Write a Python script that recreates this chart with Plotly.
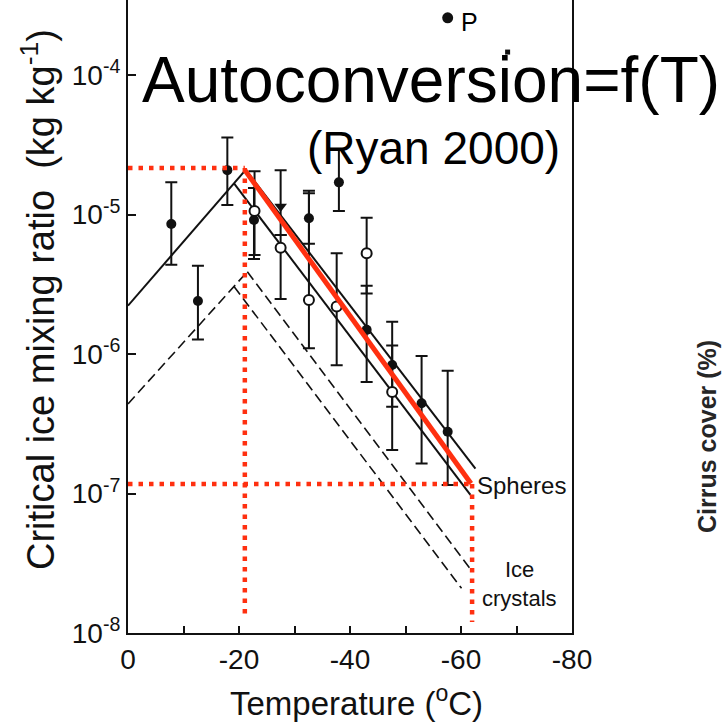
import plotly.graph_objects as go

# ---------------- data ----------------
# filled circles (Ryan 2000 observations)
filled_T   = [-7.8, -12.6, -17.9, -22.7, -32.6, -38.0, -43.0, -47.6, -52.9, -57.6]
filled_q   = [8.55e-6, 2.40e-6, 2.08e-5, 9.12e-6, 9.40e-6, 1.70e-5, 1.49e-6, 8.34e-7, 4.43e-7, 2.77e-7]
filled_top = [1.70e-5, 4.30e-6, 3.57e-5, 1.55e-5, 1.48e-5, 2.93e-5, 3.09e-6, 1.70e-6, 9.68e-7, 7.59e-7]
filled_bot = [4.37e-6, 1.27e-6, 1.17e-5, 4.79e-6, 6.17e-6, 1.06e-5, 6.30e-7, 4.19e-7, 1.64e-7, 1.15e-7]

# filled triangle
tri_T   = [-27.5]
tri_q   = [1.14e-5]
tri_top = [2.08e-5]
tri_bot = [7.13e-6]

# open circles
open_T   = [-22.8, -27.5, -32.6, -37.6, -43.0, -47.6]
open_q   = [1.06e-5, 5.78e-6, 2.44e-6, 2.19e-6, 5.27e-6, 5.35e-7]
open_top = [2.04e-5, 7.13e-6, 1.42e-5, 5.27e-6, 9.48e-6, 1.15e-6]
open_bot = [5.13e-6, 2.48e-6, 1.10e-6, 8.32e-7, 2.72e-6, 2.05e-7]

# "P" point and a small mark near the top
p_T = [-57.6]
p_q = [2.57e-4]
mark_T = [-68.4]
mark_q = [1.46e-4]

# spheres (solid lines)
sph_rise_T = [0, -21.2]
sph_rise_q = [2.22e-6, 2.09e-5]
sph_up_T = [-21.2, -62.6]
sph_up_q = [2.09e-5, 1.51e-7]
sph_lo_T = [-19.1, -61.7]
sph_lo_q = [1.67e-5, 9.77e-8]

# ice crystals (dashed lines)
ice_rise_T = [0, -21.5]
ice_rise_q = [4.39e-7, 3.89e-6]
ice_up_T = [-21.5, -61.6]
ice_up_q = [3.89e-6, 2.91e-8]
ice_lo_T = [-19.1, -60.1]
ice_lo_q = [3.05e-6, 2.09e-8]

# red fitted line
red_T = [-21.05, -61.8]
red_q = [2.08e-5, 1.18e-7]

# red dotted guides
guide_top_T = [0, -21.05]
guide_top_q = [2.15e-5, 2.15e-5]
guide_left_T = [-21.05, -21.05]
guide_left_q = [2.15e-5, 1.32e-8]
guide_bot_T = [0, -62.0]
guide_bot_q = [1.17e-7, 1.17e-7]
guide_right_T = [-62.0, -62.0]
guide_right_q = [1.17e-7, 1.20e-8]

x_tickvals = [0, -10, -20, -30, -40, -50, -60, -70, -80]
x_ticktext = ["0", "", "-20", "", "-40", "", "-60", "", "-80"]
y_tickvals = [1e-8, 1e-7, 1e-6, 1e-5, 1e-4]
y_ticktext = ["10<sup>-8</sup>", "10<sup>-7</sup>", "10<sup>-6</sup>", "10<sup>-5</sup>", "10<sup>-4</sup>"]

# ---------------- figure ----------------
FONT = "Liberation Sans, Arial, sans-serif"
RED = "#ff3010"
BLACK = "#111111"

def errs(q, top, bot):
    return [t - v for t, v in zip(top, q)], [v - b for v, b in zip(q, bot)]

fig = go.Figure()

def line(x, y, color=BLACK, width=2, dash="solid"):
    fig.add_trace(go.Scatter(x=x, y=y, mode="lines", showlegend=False, hoverinfo="skip",
                             line=dict(color=color, width=width, dash=dash)))

# ice crystal dashed lines
for xs, ys in [(ice_rise_T, ice_rise_q), (ice_up_T, ice_up_q), (ice_lo_T, ice_lo_q)]:
    line(xs, ys, width=1.6, dash="10px,5px")
# spheres solid lines
for xs, ys in [(sph_rise_T, sph_rise_q), (sph_up_T, sph_up_q), (sph_lo_T, sph_lo_q)]:
    line(xs, ys, width=2)

# error-bar points
up, dn = errs(filled_q, filled_top, filled_bot)
fig.add_trace(go.Scatter(x=filled_T, y=filled_q, mode="markers", showlegend=False,
                         marker=dict(symbol="circle", size=10, color=BLACK),
                         error_y=dict(type="data", symmetric=False, array=up, arrayminus=dn,
                                      color=BLACK, thickness=2, width=6)))
up, dn = errs(tri_q, tri_top, tri_bot)
fig.add_trace(go.Scatter(x=tri_T, y=tri_q, mode="markers", showlegend=False,
                         marker=dict(symbol="triangle-down", size=11, color=BLACK),
                         error_y=dict(type="data", symmetric=False, array=up, arrayminus=dn,
                                      color=BLACK, thickness=2, width=6)))
up, dn = errs(open_q, open_top, open_bot)
fig.add_trace(go.Scatter(x=open_T, y=open_q, mode="markers", showlegend=False,
                         marker=dict(symbol="circle", size=10, color="white",
                                     line=dict(color=BLACK, width=2)),
                         error_y=dict(type="data", symmetric=False, array=up, arrayminus=dn,
                                      color=BLACK, thickness=2, width=6)))

# red thick line
line(red_T, red_q, color=RED, width=5)
# red dotted guides
for xs, ys in [(guide_top_T, guide_top_q), (guide_left_T, guide_left_q),
               (guide_bot_T, guide_bot_q), (guide_right_T, guide_right_q)]:
    line(xs, ys, color=RED, width=4.5, dash="4.5px,6px")

# P point and small mark
fig.add_trace(go.Scatter(x=p_T, y=p_q, mode="markers", showlegend=False,
                         marker=dict(symbol="circle", size=11, color=BLACK)))
fig.add_trace(go.Scatter(x=mark_T, y=mark_q, mode="markers", showlegend=False,
                         marker=dict(symbol="square", size=5, color=BLACK)))

L, R, T, B = 128, 152, 0, 91
PW, PH = 724 - L - R, 724 - T - B

def px(x):
    return (x - L) / PW

def py(y):
    return (724 - B - y) / PH

ann = [
    dict(text="Autoconversion=f(T)", x=px(140), y=py(80), xanchor="left", yanchor="middle",
         font=dict(size=64, family=FONT, color="black")),
    dict(text="(Ryan 2000)", x=px(433), y=py(148), xanchor="center", yanchor="middle",
         font=dict(size=46, family=FONT, color="black")),
    dict(text="P", x=px(469), y=py(22), xanchor="center", yanchor="middle",
         font=dict(size=25, family=FONT, color="black")),
    dict(text="Spheres", x=px(475), y=py(485), xanchor="left", yanchor="middle",
         font=dict(size=24, family=FONT, color=BLACK)),
    dict(text="Ice", x=px(519), y=py(569), xanchor="center", yanchor="middle",
         font=dict(size=22, family=FONT, color=BLACK)),
    dict(text="crystals", x=px(519.5), y=py(598), xanchor="center", yanchor="middle",
         font=dict(size=22, family=FONT, color=BLACK)),
    dict(text="Temperature (<sup>o</sup>C)", x=px(356), y=py(724), xanchor="center", yanchor="bottom",
         font=dict(size=33, family=FONT, color=BLACK)),
    dict(text="Critical ice mixing ratio \u00a0(kg kg<sup>-1</sup>)", x=px(38), y=py(300),
         xanchor="center", yanchor="middle", textangle=-90,
         font=dict(size=38, family=FONT, color=BLACK)),
    dict(text="<b>Cirrus cover (%)</b>", x=px(707), y=py(437), xanchor="center", yanchor="middle",
         textangle=-90, font=dict(size=25, family=FONT, color="#262626")),
]
for a in ann:
    a.update(xref="paper", yref="paper", showarrow=False)

fig.update_layout(
    width=724, height=724,
    margin=dict(l=L, r=R, t=T, b=B, pad=0),
    paper_bgcolor="white", plot_bgcolor="white",
    font=dict(family=FONT, color=BLACK),
    annotations=ann,
    xaxis=dict(range=[0, -80], tickvals=x_tickvals, ticktext=x_ticktext,
               ticks="inside", ticklen=7, tickwidth=2, tickcolor=BLACK,
               showline=True, linecolor=BLACK, linewidth=2, mirror=False,
               showgrid=False, zeroline=False, tickfont=dict(size=28, family=FONT, color=BLACK)),
    yaxis=dict(type="log", range=[-8, -3.4624], tickvals=y_tickvals, ticktext=y_ticktext,
               ticks="inside", ticklen=8, tickwidth=2, tickcolor=BLACK,
               showline=True, linecolor=BLACK, linewidth=2, mirror=True,
               showgrid=False, zeroline=False, tickfont=dict(size=28, family=FONT, color=BLACK)),
)

fig.write_html("out.html")
